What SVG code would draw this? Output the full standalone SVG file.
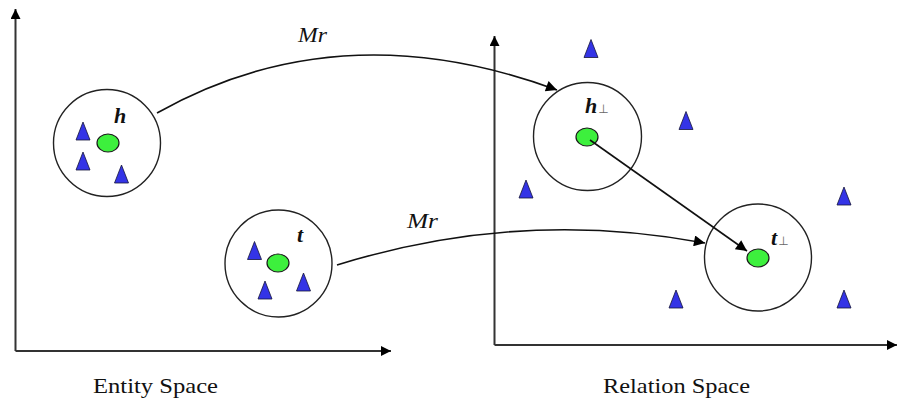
<svg xmlns="http://www.w3.org/2000/svg" width="899" height="406" viewBox="0 0 899 406">
<defs>
<style>
.axis{stroke:#333;stroke-width:2;fill:none}
.ring{stroke:#222;stroke-width:1.4;fill:none}
.arc{stroke:#111;stroke-width:1.6;fill:none}
.dot{fill:#3df03d;stroke:#1a1a1a;stroke-width:1.2}
.tri{fill:#3434e6;stroke:#15153a;stroke-width:0.8}
.lbl{font-family:"Liberation Serif",serif;font-style:italic;font-weight:bold;font-size:22px;fill:#111}
.sub{font-family:"DejaVu Sans",sans-serif;font-size:12px;fill:#666}
.cap{font-family:"Liberation Serif",serif;font-size:22px;fill:#111}
.mr{font-family:"Liberation Serif",serif;font-style:italic;font-size:21px;fill:#111}
</style>
<marker id="ah" viewBox="0 0 10 10" refX="10" refY="5" markerWidth="16" markerHeight="11" markerUnits="userSpaceOnUse" orient="auto">
<path d="M0,0 L10,5 L0,10 Z" fill="#000"/>
</marker>
<marker id="ax" viewBox="0 0 10 10" refX="10" refY="5" markerWidth="14" markerHeight="10" markerUnits="userSpaceOnUse" orient="auto">
<path d="M0,0 L10,5 L0,10 Z" fill="#000"/>
</marker>
<path id="t1" d="M0,-9 L7,9 L-7,9 Z"/>
</defs>
<rect width="899" height="406" fill="#fff"/>
<g id="entity-axes">
<path class="axis" d="M15.5,351 L15.5,9" marker-end="url(#ax)"/>
<path class="axis" d="M15.5,351 L391,351" marker-end="url(#ax)"/>
</g>
<g id="relation-axes">
<path class="axis" d="M494.5,345 L494.5,36" marker-end="url(#ax)"/>
<path class="axis" d="M494.5,345 L897,345" marker-end="url(#ax)"/>
</g>
<g id="node-h">
<circle class="ring" cx="107" cy="143" r="53.5"/>
<ellipse class="dot" cx="108" cy="143" rx="11" ry="9"/>
<use href="#t1" class="tri" x="83" y="131"/>
<use href="#t1" class="tri" x="83" y="161"/>
<use href="#t1" class="tri" x="121.5" y="174"/>
<text class="lbl" x="114" y="123">h</text>
</g>
<g id="node-t">
<circle class="ring" cx="278.5" cy="263.5" r="53.5"/>
<ellipse class="dot" cx="278" cy="263" rx="11" ry="9"/>
<use href="#t1" class="tri" x="254.5" y="250.5"/>
<use href="#t1" class="tri" x="265" y="290"/>
<use href="#t1" class="tri" x="303.5" y="282"/>
<text class="lbl" x="297" y="242">t</text>
</g>
<g id="node-hp">
<circle class="ring" cx="587.5" cy="136.5" r="54"/>
<ellipse class="dot" cx="587" cy="137" rx="11" ry="9"/>
<text class="lbl" x="585" y="113">h<tspan class="sub" font-style="normal" font-weight="normal" dx="1">⊥</tspan></text>
</g>
<g id="node-tp">
<circle class="ring" cx="758" cy="257.5" r="53.5"/>
<ellipse class="dot" cx="758" cy="258" rx="11" ry="9"/>
<text class="lbl" x="771" y="245">t<tspan class="sub" font-style="normal" font-weight="normal" dx="1">⊥</tspan></text>
</g>
<g id="scatter">
<use href="#t1" class="tri" x="591" y="48.5"/>
<use href="#t1" class="tri" x="686" y="120.5"/>
<use href="#t1" class="tri" x="526" y="189"/>
<use href="#t1" class="tri" x="844" y="196"/>
<use href="#t1" class="tri" x="844" y="299"/>
<use href="#t1" class="tri" x="676" y="299"/>
</g>
<g id="connectors">
<path class="arc" d="M157,113 Q340,10 557,90" marker-end="url(#ah)"/>
<path class="arc" d="M337,265 Q520,208 705,243" marker-end="url(#ah)"/>
<path class="arc" d="M590,140 L747,251" marker-end="url(#ah)"/>
<text class="mr" x="298" y="42" textLength="29" lengthAdjust="spacingAndGlyphs">Mr</text>
<text class="mr" x="407" y="228" textLength="31" lengthAdjust="spacingAndGlyphs">Mr</text>
</g>
<g id="captions">
<text class="cap" x="93" y="393" textLength="125" lengthAdjust="spacingAndGlyphs">Entity Space</text>
<text class="cap" x="603" y="393" textLength="147" lengthAdjust="spacingAndGlyphs">Relation Space</text>
</g>
</svg>
